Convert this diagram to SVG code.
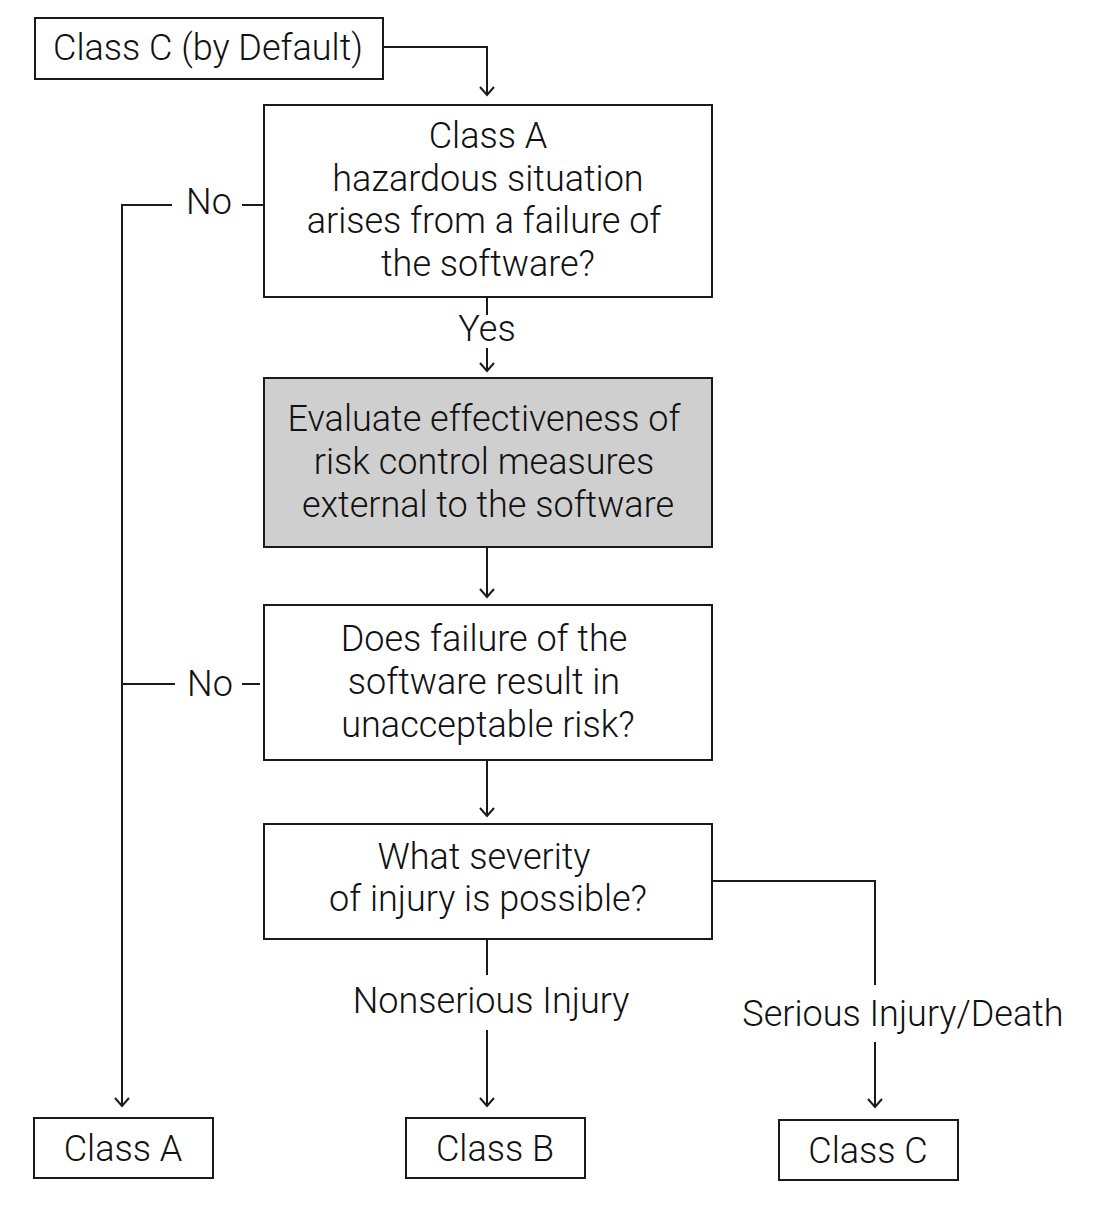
<svg xmlns="http://www.w3.org/2000/svg" width="1096" height="1228" viewBox="0 0 1096 1228">
<style>
.box{fill:#ffffff;stroke:#1a1a1a;stroke-width:2}
.grey{fill:#cfcfcf}
text{font-family:Roboto,"Liberation Sans",sans-serif;font-weight:300;font-size:36px;fill:#111;text-anchor:middle}
.ln{fill:none;stroke:#1a1a1a;stroke-width:2}
</style>
<defs>
<marker id="arr" viewBox="-10 -10 20 20" markerWidth="20" markerHeight="20" refX="0" refY="0" orient="auto" markerUnits="userSpaceOnUse">
<path d="M-8,-7 L0,0 L-8,7" fill="none" stroke="#1a1a1a" stroke-width="2"/>
</marker>
</defs>
<rect width="1096" height="1228" fill="#ffffff"/>
<g id="connectors">
<path class="ln" d="M383,47 H487 V95" marker-end="url(#arr)"/>
<path class="ln" d="M487,297 V315"/>
<path class="ln" d="M487,348 V371" marker-end="url(#arr)"/>
<path class="ln" d="M487,547 V597" marker-end="url(#arr)"/>
<path class="ln" d="M487,760 V816" marker-end="url(#arr)"/>
<path class="ln" d="M487,939 V975"/>
<path class="ln" d="M487,1030 V1106" marker-end="url(#arr)"/>
<path class="ln" d="M712,881 H875 V985"/>
<path class="ln" d="M875,1042 V1107" marker-end="url(#arr)"/>
<path class="ln" d="M172,205 H122 V1106" marker-end="url(#arr)"/>
<path class="ln" d="M242,205 H264"/>
<path class="ln" d="M122,684 H175"/>
<path class="ln" d="M242,684 H260"/>
<text x="209" y="214">No</text>
<text x="210" y="696">No</text>
<text x="487" y="341">Yes</text>
<text x="491" y="1013">Nonserious Injury</text>
<text x="903" y="1026">Serious Injury/Death</text>
</g>
<g id="start">
<rect class="box" x="35" y="18" width="348" height="61"/>
<text x="208" y="60">Class C (by Default)</text>
</g>
<g id="q-hazard">
<rect class="box" x="264" y="105" width="448" height="192"/>
<text x="488" y="148">Class A</text>
<text x="488" y="191">hazardous situation</text>
<text x="484" y="233">arises from a failure of</text>
<text x="488" y="276">the software?</text>
</g>
<g id="evaluate">
<rect class="box grey" x="264" y="378" width="448" height="169"/>
<text x="484" y="431">Evaluate effectiveness of</text>
<text x="484" y="474">risk control measures</text>
<text x="488" y="517">external to the software</text>
</g>
<g id="q-risk">
<rect class="box" x="264" y="605" width="448" height="155"/>
<text x="484" y="651">Does failure of the</text>
<text x="484" y="694">software result in</text>
<text x="488" y="737">unacceptable risk?</text>
</g>
<g id="q-severity">
<rect class="box" x="264" y="824" width="448" height="115"/>
<text x="484" y="869">What severity</text>
<text x="488" y="911">of injury is possible?</text>
</g>
<g id="class-a">
<rect class="box" x="34" y="1118" width="179" height="60"/>
<text x="123" y="1161">Class A</text>
</g>
<g id="class-b">
<rect class="box" x="406" y="1118" width="179" height="60"/>
<text x="495" y="1161">Class B</text>
</g>
<g id="class-c">
<rect class="box" x="779" y="1120" width="179" height="60"/>
<text x="868" y="1163">Class C</text>
</g>
</svg>
